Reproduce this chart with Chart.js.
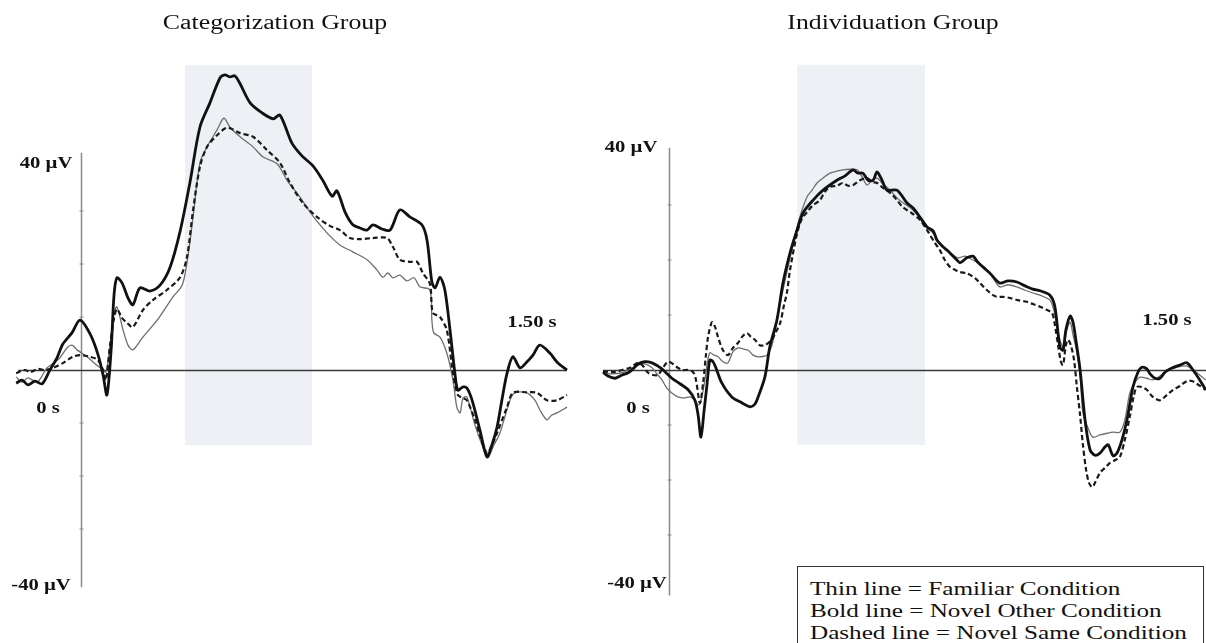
<!DOCTYPE html>
<html>
<head>
<meta charset="utf-8">
<script src="https://cdn.jsdelivr.net/npm/chart.js@4.4.1/dist/chart.umd.min.js"></script>
<style>
  html,body{margin:0;padding:0;background:#fff;}
  #page{position:relative;width:1206px;height:643px;overflow:hidden;background:#fff;}
  .pane{position:absolute;top:0;height:643px;}
  .t{position:absolute;font-family:"Liberation Serif","Times New Roman",serif;color:#111;white-space:nowrap;
     transform:translate(-50%,-50%) scaleX(1.29);line-height:1;}
  .title{font-size:20px;}
  .lab{font-size:16px;font-weight:bold;}
  #legend{position:absolute;left:797px;top:566px;width:405px;height:100px;border:1px solid #333;background:#fff;}
  .leg{position:absolute;left:12px;font-family:"Liberation Serif","Times New Roman",serif;font-size:19.5px;color:#111;
       white-space:nowrap;transform-origin:left center;transform:translateY(-50%) scaleX(1.29);line-height:1;}
</style>
</head>
<body>
<div id="page">
  <div class="pane" style="left:0;width:600px;"><canvas id="c1" width="600" height="643"></canvas></div>
  <div class="pane" style="left:600px;width:606px;"><canvas id="c2" width="606" height="643"></canvas></div>

  <div class="t title" style="left:275px;top:22px;">Categorization Group</div>
  <div class="t title" style="left:893px;top:22px;">Individuation Group</div>

  <div class="t lab" style="left:46px;top:163px;">40 µV</div>
  <div class="t lab" style="left:48px;top:408px;">0 s</div>
  <div class="t lab" style="left:41px;top:585px;">-40 µV</div>
  <div class="t lab" style="left:532px;top:322px;">1.50 s</div>

  <div class="t lab" style="left:631px;top:147px;">40 µV</div>
  <div class="t lab" style="left:638px;top:408px;">0 s</div>
  <div class="t lab" style="left:637px;top:583px;">-40 µV</div>
  <div class="t lab" style="left:1167px;top:320px;">1.50 s</div>

  <div id="legend">
    <div class="leg" style="top:22px;">Thin line = Familiar Condition</div>
    <div class="leg" style="top:44px;">Bold line = Novel Other Condition</div>
    <div class="leg" style="top:66px;">Dashed line = Novel Same Condition</div>
  </div>
</div>
<script>
// ---- Categorization Group (time in ms, amplitude in µV) ----
const catBoldT = [-200,-182,-164,-142,-120,-96,-74,-56,-28,-3,28,52,68,80,93,102,111,127,145,160,182,213,244,275,306,336,367,398,429,444,460,475,491,522,559,593,614,651,682,716,747,775,790,815,839,861,883,901,929,954,984,1015,1052,1068,1083,1093,1108,1123,1139,1154,1163,1179,1191,1207,1231,1253,1268,1284,1299,1315,1333,1355,1376,1395,1416,1447,1472,1500];
const catBoldV = [-2.5,-1.9,-2.8,-2.1,-2.6,0,2.3,4.9,7.0,9.4,6.8,3.0,-0.9,-4.7,3.8,14.2,17.4,16.4,13.6,12.3,15.5,14.9,16.0,19.4,26.2,35.3,45.8,50.4,55.1,55.7,55.3,55.5,54.0,50.4,48.5,47.4,48.1,42.8,40.4,38.5,35.7,32.8,33.8,29.8,27.4,26.8,26.4,27.4,26.6,26.4,30.2,28.9,27.4,24.5,16.6,15.5,17.5,15.1,7.5,-0.6,-3.8,-3.2,-3.4,-5.7,-11.3,-16.4,-14.2,-10.8,-5.7,-0.6,2.5,0.4,1.5,2.8,4.7,3.2,1.3,0];

const catThinT = [-200,-182,-164,-136,-120,-105,-80,-65,-43,-28,-12,19,49,68,77,89,102,111,130,145,160,191,235,284,312,327,346,367,389,420,441,460,491,531,562,605,636,676,707,728,768,799,839,883,913,932,947,963,984,1006,1028,1046,1077,1083,1089,1108,1129,1148,1160,1170,1179,1191,1216,1240,1256,1274,1293,1324,1339,1376,1401,1416,1438,1453,1469,1500];
const catThinV = [-1.3,-2.3,-1.5,-2.3,-1.1,0.4,1.5,2.3,4.2,4.7,3.8,2.5,0.9,0,-0.4,4.3,10.9,11.9,7.5,4.7,3.8,6.2,9.4,13.8,16.0,20.2,28.9,39.1,42.1,45.3,47.5,45.8,44.0,42.1,40.2,38.9,35.8,32.6,29.8,28.1,25.3,23.6,22.3,20.8,18.9,17.5,18.3,17.4,17.9,16.8,17.4,15.7,15.1,9.4,7.0,6.2,3.2,-1.9,-7.0,-8.1,-5.3,-5.1,-10.4,-14.5,-16.4,-14.2,-11.9,-5.7,-4.3,-4.3,-5.7,-7.5,-9.4,-8.5,-8.1,-7.0];

const catDashT = [-200,-173,-157,-133,-111,-86,-56,-25,-3,28,52,68,77,89,102,111,127,142,160,191,222,265,306,327,346,367,389,420,451,491,531,574,614,645,685,728,768,799,830,861,901,944,963,984,1015,1037,1055,1077,1086,1108,1129,1148,1163,1179,1191,1216,1231,1253,1268,1284,1315,1333,1376,1407,1438,1469,1500];
const catDashV = [-0.6,0,-0.4,0.2,0,0.4,1.3,2.5,2.8,2.5,1.9,0,-1.9,4.3,9.8,11.5,9.8,8.9,8.1,11.3,13.2,15.1,17.5,21.3,30.2,38.3,42.1,44.3,45.7,44.7,44.0,41.5,39.1,35.3,31.5,28.9,27.2,26.4,24.9,24.7,24.9,24.9,23.2,20.8,20.4,20.4,18.3,16.2,10.8,10.0,7.5,-0.6,-4.7,-5.3,-5.7,-9.4,-12.3,-15.7,-14.2,-11.9,-7.0,-4.3,-4.2,-4.3,-5.7,-5.7,-4.7];

// ---- Individuation Group ----
const indBoldT = [-186,-172,-152,-132,-115,-101,-87,-68,-48,-31,-20,8,31,54,73,82,90,99,107,115,124,132,149,177,206,228,242,251,270,284,304,321,341,361,377,406,434,473,496,518,532,546,561,575,586,600,614,642,670,687,707,727,744,755,772,783,811,820,839,856,870,885,904,932,955,980,1003,1025,1045,1073,1087,1101,1110,1118,1130,1138,1146,1158,1172,1186,1200,1214,1228,1237,1251,1262,1276,1290,1307,1321,1332,1346,1355,1369,1383,1397,1411,1439,1459,1476,1495,1512];
const indBoldV = [-0.4,-1.1,-1.5,-0.9,-0.5,0.2,1.1,1.5,1.3,0.7,0.2,-1.5,-2.5,-3.6,-5.5,-8.2,-12.2,-7.3,-2.7,1.8,1.5,0.4,-2.4,-4.9,-6.0,-6.7,-6.2,-4.9,-1.3,4.2,9.1,15.8,21.3,25.5,28.5,30.9,32.7,34.5,35.3,36.4,35.8,35.8,34.5,34.5,36.0,34.5,32.7,32.7,30.4,29.5,27.8,26.0,25.3,23.6,22.4,21.8,20.0,19.5,20.4,20.7,19.6,18.7,17.6,15.8,16.2,16.0,15.3,14.7,14.4,13.6,11.5,4.2,3.6,7.3,9.8,8.7,5.5,0,-9.1,-14.5,-15.5,-15.1,-14.0,-13.6,-15.6,-15.1,-12.7,-9.1,-3.1,-0.4,0.5,0.2,-0.7,-1.5,-1.5,-0.4,0.2,0.9,1.3,0,-1.8,-3.6];

const indThinT = [-186,-166,-132,-110,-87,-68,-48,-34,-20,-6,8,25,42,59,73,82,90,99,107,115,127,138,152,166,180,194,211,223,237,251,268,276,290,304,321,341,361,375,389,403,417,434,454,490,510,530,544,558,572,586,600,623,642,659,687,707,727,744,763,792,814,834,856,876,896,913,932,955,980,1003,1025,1045,1073,1084,1093,1101,1110,1121,1130,1138,1149,1158,1166,1180,1194,1214,1234,1251,1270,1284,1298,1313,1327,1346,1363,1383,1403,1425,1445,1459,1476,1487,1512];
const indThinV = [-0.4,-0.7,-0.5,0.2,0.9,1.1,0.4,-0.7,-1.8,-3.3,-4.2,-4.9,-5.1,-4.9,-5.5,-6.4,-5.5,-2.7,0.9,3.1,2.7,2.4,1.5,1.3,3.3,4.0,3.8,3.6,2.7,2.4,2.5,2.7,4.5,9.1,14.5,20.4,26.0,29.1,31.5,32.7,34.0,34.9,35.8,36.4,36.5,36.4,35.1,33.6,34.5,34.9,34.0,32.7,31.3,30.4,29.1,27.6,25.8,24.9,23.1,21.3,20.4,20.7,20.0,19.3,18.2,16.7,15.1,15.5,15.1,14.5,14.0,13.6,12.7,10.9,7.8,5.5,4.2,7.3,8.7,6.4,3.1,-0.9,-7.8,-10.5,-12.2,-11.8,-11.5,-11.3,-11.3,-9.1,-4.2,-2.2,-1.3,-1.5,-1.8,-1.1,0,0.4,0.7,0.7,0,-0.5,-1.8];

const indDashT = [-186,-161,-132,-110,-87,-73,-59,-45,-31,-17,-3,11,25,39,54,68,76,87,96,104,110,121,130,138,152,166,180,194,208,220,231,242,256,270,279,290,301,313,324,332,341,361,375,389,403,425,439,454,473,490,504,518,538,558,572,586,603,623,642,659,684,707,730,749,763,777,792,806,820,839,862,876,896,913,924,941,960,983,1008,1025,1045,1065,1079,1087,1096,1104,1110,1118,1124,1132,1141,1149,1158,1166,1175,1183,1192,1200,1214,1228,1242,1256,1270,1284,1298,1310,1318,1332,1346,1363,1383,1403,1420,1439,1459,1473,1487,1512];
const indDashV = [-0.2,-0.4,0,0.4,1.3,0.7,-0.5,-0.9,-0.9,0.4,1.5,1.1,0.4,0,0,-0.4,-1.8,-6.0,-2.4,2.7,6.0,8.7,7.8,6.0,3.6,2.7,4.0,4.9,6.2,6.7,6.0,5.5,4.5,4.5,4.9,5.5,6.9,8.5,11.8,14.0,18.2,24.9,27.6,28.7,29.8,30.9,32.4,33.3,33.5,34.0,33.5,33.6,34.5,34.9,34.2,34.0,33.1,32.2,30.9,29.6,28.5,27.3,25.1,23.1,21.8,20.0,18.7,18.2,17.8,17.6,16.7,15.8,14.5,13.6,13.3,13.3,13.1,12.7,12.4,12.0,11.5,10.9,10.4,8.2,4.5,1.5,0.9,4.5,5.5,4.5,1.8,-3.1,-8.2,-13.6,-18.2,-20.5,-21.3,-20.5,-18.7,-17.8,-16.9,-16.4,-15.8,-12.7,-8.5,-4.5,-3.1,-3.1,-3.6,-4.9,-5.5,-4.5,-3.6,-2.9,-2.0,-2.0,-2.5,-3.6];

// ---- helpers ----
function pts(T, V){ const n=Math.min(T.length,V.length); const a=[]; for(let i=0;i<n;i++) a.push({x:T[i],y:V[i]}); return a; }

const decor = {
  id:'decor',
  beforeDatasetsDraw(chart, args, o){
    const {ctx} = chart, xs = chart.scales.x, ys = chart.scales.y;
    ctx.save();
    // shaded window
    ctx.fillStyle = '#edf0f5';
    const x0 = xs.getPixelForValue(o.shade[0]), x1 = xs.getPixelForValue(o.shade[1]);
    const y0 = ys.getPixelForValue(o.shade[2]), y1 = ys.getPixelForValue(o.shade[3]);
    ctx.fillRect(x0, y0, x1-x0, y1-y0);
    // vertical axis at 0 s
    const ax = Math.round(xs.getPixelForValue(0))+0.5;
    ctx.strokeStyle = '#8a8a8a'; ctx.lineWidth = 1.5;
    ctx.beginPath(); ctx.moveTo(ax, ys.getPixelForValue(o.vAxis[0])); ctx.lineTo(ax, ys.getPixelForValue(o.vAxis[1])); ctx.stroke();
    ctx.lineWidth = 1;
    for (const v of o.ticks){ const ty = ys.getPixelForValue(v); ctx.beginPath(); ctx.moveTo(ax-2, ty); ctx.lineTo(ax+2, ty); ctx.stroke(); }
    // baseline
    const by = Math.round(ys.getPixelForValue(0))+0.5;
    ctx.strokeStyle = '#3a3a3a'; ctx.lineWidth = 1.6;
    ctx.beginPath(); ctx.moveTo(xs.getPixelForValue(o.base[0]), by); ctx.lineTo(xs.getPixelForValue(o.base[1]), by); ctx.stroke();
    ctx.restore();
  }
};

function makeChart(id, bold, thin, dash, xr, yr, dec){
  return new Chart(document.getElementById(id), {
    type:'line',
    data:{ datasets:[
      {label:'Novel Other', data:bold, borderColor:'#111', borderWidth:2.8, tension:0.3},
      {label:'Novel Same', data:dash, borderColor:'#1a1a1a', borderWidth:2.2, borderDash:[5,3], tension:0.3},
      {label:'Familiar', data:thin, borderColor:'#6e6e6e', borderWidth:1.3, tension:0.3}
    ]},
    options:{
      responsive:false, animation:false, devicePixelRatio:1,
      layout:{padding:0},
      parsing:false,
      elements:{point:{radius:0}},
      scales:{
        x:{type:'linear', min:xr[0], max:xr[1], display:false},
        y:{type:'linear', min:yr[0], max:yr[1], display:false}
      },
      plugins:{legend:{display:false}, tooltip:{enabled:false}, decor:dec}
    },
    plugins:[decor]
  });
}

// left pane: 0 ms at x=81 px, 0.324 px/ms; 0 µV at y=370, 5.3 px/µV
makeChart('c1', pts(catBoldT,catBoldV), pts(catThinT,catThinV), pts(catDashT,catDashV),
  [(0-81)/0.324, (600-81)/0.324], [(370-643)/5.3, 370/5.3],
  {shade:[321,713,57.5,-14.2], vAxis:[41,-41], ticks:[-30,-20,-10,10,20,30], base:[-194,1500]});

// right pane: 0 ms at x=69 px (669 page), 0.355 px/ms; 0 µV at y=370, 5.5 px/µV
makeChart('c2', pts(indBoldT,indBoldV), pts(indThinT,indThinV), pts(indDashT,indDashV),
  [(0-69)/0.355, (606-69)/0.355], [(370-643)/5.5, 370/5.5],
  {shade:[361,721,55.5,-13.6], vAxis:[40.4,-41], ticks:[-30,-20,-10,10,20,30], base:[-186,1520]});
</script>
</body>
</html>
